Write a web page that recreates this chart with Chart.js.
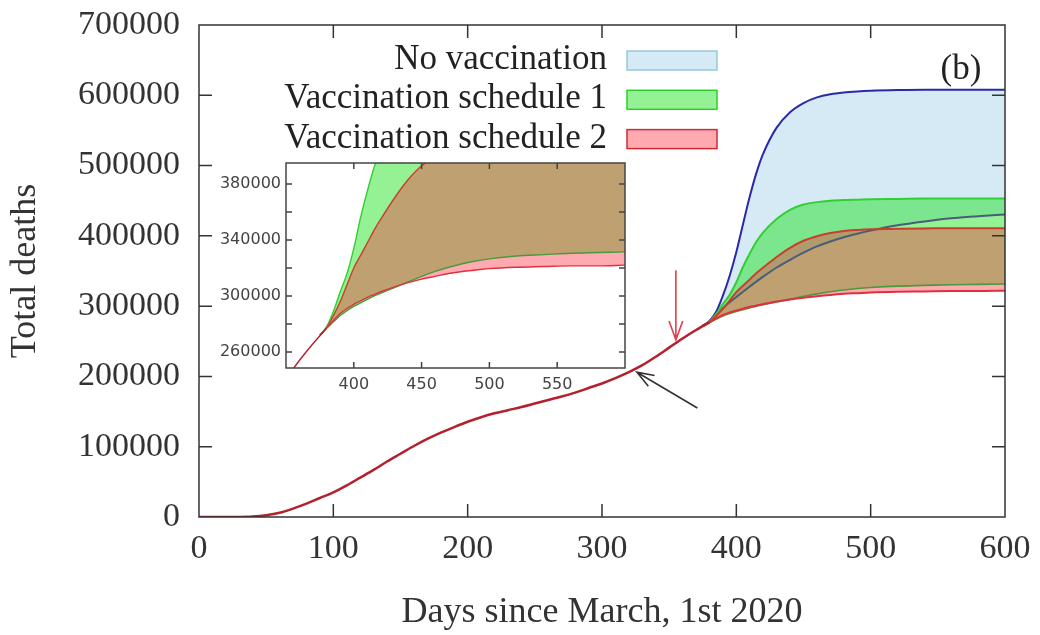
<!DOCTYPE html>
<html>
<head>
<meta charset="utf-8">
<script src="https://cdn.jsdelivr.net/npm/chart.js@4.4.1/dist/chart.umd.min.js"></script>
<style>
body { margin: 0; background: #fff; }
#wrap { position: relative; width: 1040px; height: 635px; }
#main { position: absolute; left: 0; top: 0; }
#inset { position: absolute; left: 200px; top: 150px; }
</style>
</head>
<body>
<div id="wrap">
<canvas id="main" width="1040" height="635"></canvas>
<canvas id="inset" width="440" height="250"></canvas>
</div>
<script>
// values
const seriesNames = ["No vaccination", "Vaccination schedule 1", "Vaccination schedule 2"];

const commonDays = [0, 10, 20, 30, 40, 50, 60, 70, 80, 90, 100, 110, 120, 130, 140, 150, 160, 170, 180, 190,
    200, 210, 220, 230, 240, 250, 260, 270, 280, 290, 300, 310, 320, 330, 340, 350, 360, 370, 380];
const commonDeaths = [0, 0, 0, 100, 700, 2500, 6000, 12000, 19000, 27000, 35000, 45000, 56000, 67000, 79000, 90000, 101000, 111000, 120000, 128000,
    135500, 142000, 147500, 152000, 156500, 161500, 166500, 171500, 177000, 183500, 190000, 197500, 206000, 216000, 228000, 241000, 254000, 266000, 277000];

const branchDays = [375, 380, 385, 390, 395, 400, 405, 410, 415, 420, 430, 440, 450, 460, 470, 480, 490, 500, 520, 540, 560, 580, 600];
const noVaccUpper = [272000, 279000, 292000, 315000, 343000, 377000, 417000, 456000, 490000, 517000, 554000, 576000, 589000, 597000, 601500, 604000, 605500, 606500, 607500, 608000, 608000, 608000, 608000];
const noVaccLower = [272000, 277000, 287000, 297000, 305500, 313000, 320500, 328000, 335000, 342000, 355000, 366000, 376000, 385000, 392000, 398000, 403000, 407500, 415000, 420500, 425000, 428000, 430500];
const sched1Upper = [272000, 278000, 289000, 303000, 316000, 334000, 356000, 375000, 392000, 405000, 424000, 437000, 444500, 448000, 450000, 451000, 451500, 452000, 452500, 453000, 453000, 453000, 453000];
const sched1Lower = [272000, 277000, 281500, 286000, 289500, 292500, 295000, 297500, 300000, 302000, 306000, 310000, 314000, 317500, 320500, 323000, 325000, 326500, 328500, 329500, 330500, 331000, 331500];
const sched2Upper = [272000, 277500, 286000, 296000, 308000, 320000, 329000, 338000, 347000, 355000, 370000, 383000, 393000, 399500, 404000, 407000, 408500, 409500, 410000, 410500, 411000, 411000, 411000];
const sched2Lower = [272000, 277000, 282500, 287500, 291000, 294000, 296500, 299000, 301000, 303000, 306500, 309500, 312000, 314000, 316000, 317500, 318500, 319500, 320500, 321000, 321500, 321500, 322000];

// tick values
const mainDayTicks = [0, 100, 200, 300, 400, 500, 600];
const mainDeathTicks = [0, 100000, 200000, 300000, 400000, 500000, 600000, 700000];
const insetDayTicks = [400, 450, 500, 550];
const insetDeathTicks = [260000, 280000, 300000, 320000, 340000, 360000, 380000];
const insetDeathLabels = [260000, 300000, 340000, 380000];

// arrows, in days / deaths
const redArrow = { day: 355, from: 351000, to: 252000 };
const blackArrow = { fromDay: 371, fromVal: 155000, toDay: 326, toVal: 206000 };

const bandFill = ["rgb(214,234,246)", "rgba(0,225,0,0.42)", "rgba(255,40,60,0.4)"];
const bandBorder = ["rgb(150,200,222)", "rgb(40,210,40)", "rgb(210,40,50)"];

function pts(days, vals) {
    return days.map((d, i) => ({ x: d, y: vals[i] }));
}

function setTicks(list) {
    return s => { s.ticks = list.map(v => ({ value: v })); };
}

// invisible tick marks, only used to push the labels away from the axis
function gap(len) {
    return { display: true, drawOnChartArea: false, drawTicks: true, tickLength: len, tickColor: 'rgba(0,0,0,0)' };
}

function arrow(ctx, x1, y1, x2, y2, color, head) {
    ctx.strokeStyle = color;
    ctx.lineWidth = 1.6;
    ctx.beginPath();
    ctx.moveTo(x1, y1);
    ctx.lineTo(x2, y2);
    const a = Math.atan2(y2 - y1, x2 - x1);
    ctx.moveTo(x2 - head * Math.cos(a - 0.35), y2 - head * Math.sin(a - 0.35));
    ctx.lineTo(x2, y2);
    ctx.lineTo(x2 - head * Math.cos(a + 0.35), y2 - head * Math.sin(a + 0.35));
    ctx.stroke();
}

// box round the plot with inward ticks on all four sides
const frame = {
    id: 'frame',
    afterDraw(chart, args, opts) {
        const ctx = chart.ctx, a = chart.chartArea;
        const x = chart.scales.x, y = chart.scales.y;
        ctx.save();
        ctx.strokeStyle = opts.color;
        ctx.lineWidth = opts.width;
        ctx.beginPath();
        x.ticks.forEach(t => {
            const px = x.getPixelForValue(t.value);
            if (px < a.left + 3 || px > a.right - 3) return;
            ctx.moveTo(px, a.bottom); ctx.lineTo(px, a.bottom - opts.len);
            ctx.moveTo(px, a.top); ctx.lineTo(px, a.top + opts.len);
        });
        y.ticks.forEach(t => {
            const py = y.getPixelForValue(t.value);
            if (py < a.top + 3 || py > a.bottom - 3) return;
            ctx.moveTo(a.left, py); ctx.lineTo(a.left + opts.len, py);
            ctx.moveTo(a.right, py); ctx.lineTo(a.right - opts.len, py);
        });
        ctx.stroke();
        ctx.strokeRect(a.left, a.top, a.right - a.left, a.bottom - a.top);
        ctx.restore();
    }
};

const whiteBg = {
    id: 'whiteBg',
    beforeDraw(chart) {
        const ctx = chart.ctx, a = chart.chartArea;
        ctx.save();
        ctx.fillStyle = '#fff';
        ctx.fillRect(a.left, a.top, a.right - a.left, a.bottom - a.top);
        ctx.restore();
    }
};

const legendBox = {
    id: 'legendBox',
    afterDraw(chart) {
        const ctx = chart.ctx, a = chart.chartArea;
        const x = chart.scales.x, y = chart.scales.y;
        ctx.save();
        ctx.font = '35px "Liberation Serif"';
        ctx.textAlign = 'right';
        ctx.textBaseline = 'middle';
        seriesNames.forEach((name, i) => {
            const cy = a.top + 35 + i * 39.3;
            ctx.fillStyle = '#222';
            ctx.fillText(name, 607, cy);
            ctx.fillStyle = '#fff';
            ctx.fillRect(627, cy - 9, 90, 19);
            ctx.fillStyle = bandFill[i];
            ctx.fillRect(627, cy - 9, 90, 19);
            ctx.strokeStyle = bandBorder[i];
            ctx.lineWidth = 1.5;
            ctx.strokeRect(627, cy - 9, 90, 19);
        });
        ctx.fillStyle = '#222';
        ctx.textAlign = 'center';
        ctx.fillText('(b)', a.right - 44, a.top + 45);

        arrow(ctx, x.getPixelForValue(redArrow.day), y.getPixelForValue(redArrow.from),
              x.getPixelForValue(redArrow.day), y.getPixelForValue(redArrow.to), '#e0404e', 20);
        arrow(ctx, x.getPixelForValue(blackArrow.fromDay), y.getPixelForValue(blackArrow.fromVal),
              x.getPixelForValue(blackArrow.toDay), y.getPixelForValue(blackArrow.toVal), '#333', 18);
        ctx.restore();
    }
};

function line(data, color, width, fill, bg) {
    return {
        data: data,
        borderColor: color,
        borderWidth: width,
        backgroundColor: bg || 'transparent',
        fill: fill,
        pointRadius: 0,
        cubicInterpolationMode: 'monotone'
    };
}

function mainDatasets() {
    return [
        line(pts(commonDays, commonDeaths), '#b3202e', 2.5, false),
        line(pts(branchDays, sched2Upper), '#c8402a', 2, 2, bandFill[2]),
        line(pts(branchDays, sched2Lower), '#e03040', 2, false),
        line(pts(branchDays, sched1Upper), '#30d030', 2, 4, bandFill[1]),
        line(pts(branchDays, sched1Lower), '#4a9a3a', 1.6, false),
        line(pts(branchDays, noVaccUpper), '#2a2aa8', 2, 6, bandFill[0]),
        line(pts(branchDays, noVaccLower), '#4a5d78', 2, false)
    ];
}

const serif = 'Liberation Serif';

new Chart(document.getElementById('main'), {
    type: 'line',
    data: { datasets: mainDatasets() },
    options: {
        responsive: false,
        animation: false,
        layout: { padding: { top: 25, right: 35, left: 0, bottom: 0 } },
        plugins: {
            legend: { display: false },
            tooltip: { enabled: false },
            filler: { drawTime: 'beforeDatasetsDraw' },
            frame: { color: '#333', width: 1.5, len: 13 }
        },
        scales: {
            x: {
                type: 'linear', min: 0, max: 600,
                grid: gap(12), border: { display: false },
                afterBuildTicks: setTicks(mainDayTicks),
                ticks: { padding: 0, color: '#333', font: { family: serif, size: 34 }, maxRotation: 0, autoSkip: false },
                title: { display: true, text: 'Days since March, 1st 2020', color: '#333',
                         font: { family: serif, size: 36 }, padding: { top: 0, bottom: 1 } },
                afterFit: s => { s.height = 118; }
            },
            y: {
                type: 'linear', min: 0, max: 700000,
                grid: gap(19), border: { display: false },
                afterBuildTicks: setTicks(mainDeathTicks),
                ticks: { padding: 0, color: '#333', autoSkip: false,
                         font: { family: serif, size: 34 }, callback: v => String(v) },
                title: { display: true, text: 'Total deaths', color: '#333',
                         font: { family: serif, size: 36 }, padding: { top: 4, bottom: 4 } },
                afterFit: s => { s.width = 199; }
            }
        }
    },
    plugins: [frame, legendBox]
});

// inset: only the two vaccination schedules
const insetData = mainDatasets().slice(0, 5);
insetData.forEach(d => { d.borderWidth = Math.min(d.borderWidth, 1.4); });

new Chart(document.getElementById('inset'), {
    type: 'line',
    data: { datasets: insetData },
    options: {
        responsive: false,
        animation: false,
        layout: { padding: { top: 13, right: 15, left: 0, bottom: 0 } },
        plugins: {
            legend: { display: false },
            tooltip: { enabled: false },
            filler: { drawTime: 'beforeDatasetsDraw' },
            frame: { color: '#444', width: 1.5, len: 6 }
        },
        scales: {
            x: {
                type: 'linear', min: 350, max: 600,
                grid: gap(7), border: { display: false },
                afterBuildTicks: setTicks(insetDayTicks),
                ticks: { padding: 0, color: '#444', maxRotation: 0, autoSkip: false,
                         font: { family: 'DejaVu Sans', size: 16 }, callback: v => String(v) },
                afterFit: s => { s.height = 32; }
            },
            y: {
                type: 'linear', min: 248500, max: 395000,
                grid: gap(5), border: { display: false },
                afterBuildTicks: setTicks(insetDeathTicks),
                ticks: { padding: 0, color: '#444', autoSkip: false,
                         font: { family: 'DejaVu Sans', size: 16 },
                         callback: v => (insetDeathLabels.includes(v) ? String(v) : '') },
                afterFit: s => { s.width = 86; }
            }
        }
    },
    plugins: [whiteBg, frame]
});
</script>
</body>
</html>
